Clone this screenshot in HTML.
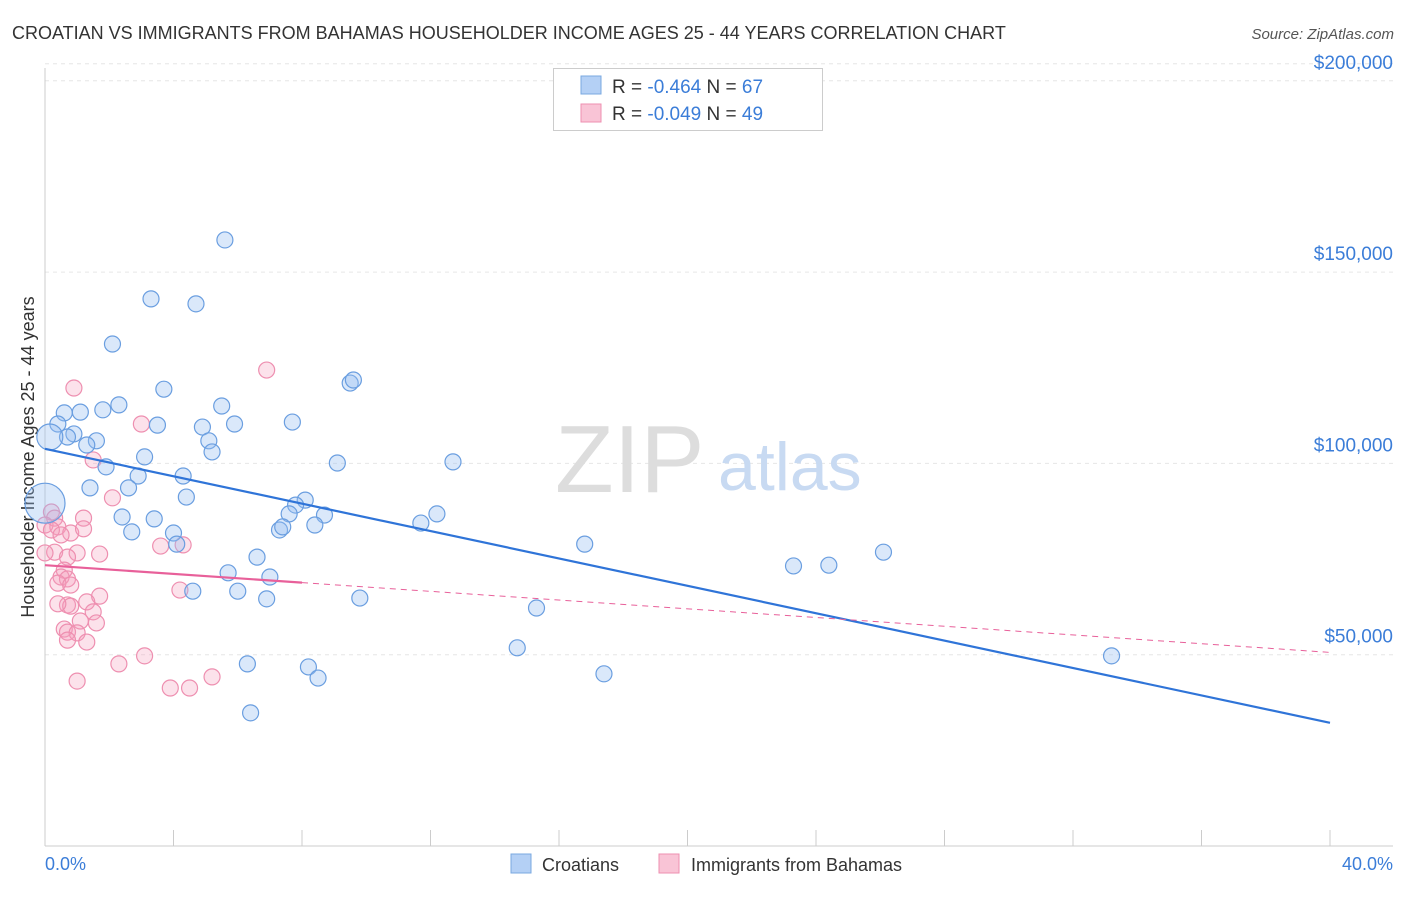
<!DOCTYPE html>
<html><head><meta charset="utf-8"><style>
body{margin:0;background:#fff;font-family:"Liberation Sans",sans-serif;}
svg text{font-family:"Liberation Sans",sans-serif;}
</style></head><body>
<svg id="chart" width="1406" height="892" xmlns="http://www.w3.org/2000/svg">
<text x="12" y="39" font-size="18" fill="#333">CROATIAN VS IMMIGRANTS FROM BAHAMAS HOUSEHOLDER INCOME AGES 25 - 44 YEARS CORRELATION CHART</text>
<text x="1394" y="39" font-size="15" fill="#555" text-anchor="end" font-style="italic">Source: ZipAtlas.com</text>
<g id="grid"></g>
<g id="yticks"></g>
<line x1="45" y1="68" x2="45" y2="846" stroke="#ccc"/>
<line x1="45" y1="846" x2="1393" y2="846" stroke="#ccc"/>
<g id="xticks"></g>
<text x="45" y="870" font-size="18" fill="#3b7dd8">0.0%</text>
<text x="1393" y="870" font-size="18" fill="#3b7dd8" text-anchor="end">40.0%</text>
<text transform="translate(34,457) rotate(-90)" font-size="18" fill="#333" text-anchor="middle">Householder Income Ages 25 - 44 years</text>
<text x="555" y="492" font-size="96" fill="#ddd" font-family="Liberation Serif">ZIP</text>
<text x="718" y="490" font-size="68" fill="#c8daf2">atlas</text>
<g id="pts"></g>
<g id="trends"></g>
<g>
<rect x="553.5" y="68.5" width="269" height="62" fill="#fff" stroke="#ccc"/>
<rect x="581" y="76" width="20" height="18" fill="#b4d0f5" stroke="#7aa8e0"/>
<rect x="581" y="104" width="20" height="18" fill="#f9c4d6" stroke="#ee8fb0"/>
<text x="612" y="93" font-size="19" fill="#333">R = <tspan fill="#3b7dd8">-0.464</tspan>   N = <tspan fill="#3b7dd8">67</tspan></text>
<text x="612" y="120" font-size="19" fill="#333">R = <tspan fill="#3b7dd8">-0.049</tspan>   N = <tspan fill="#3b7dd8">49</tspan></text>
</g>
<g>
<rect x="511" y="854" width="20" height="19" fill="#b4d0f5" stroke="#7aa8e0"/>
<text x="542" y="871" font-size="18" fill="#333">Croatians</text>
<rect x="659" y="854" width="20" height="19" fill="#f9c4d6" stroke="#ee8fb0"/>
<text x="691" y="871" font-size="18" fill="#333">Immigrants from Bahamas</text>
</g>
</svg>
<script>
const yTicks=[50000,100000,150000,200000];
const yTickLabels=["$50,000","$100,000","$150,000","$200,000"];
const xTicks=[0,4,8,12,16,20,24,28,32,36,40];
const blueX=[5.6,3.3,4.7,2.1,3.7,9.5,9.6,2.3,5.5,0.6,1.1,1.8,0.4,0.9,0.7,3.5,4.9,5.9,7.7,1.6,1.3,5.1,5.2,3.1,9.1,12.7,1.9,4.3,2.9,1.4,2.6,4.4,8.1,7.8,2.4,3.4,7.6,8.7,12.2,11.7,2.7,4.0,7.3,7.4,8.4,4.1,16.8,6.6,26.1,23.3,24.4,5.7,7.0,4.6,6.0,6.9,9.8,15.3,14.7,33.2,6.3,8.2,8.5,17.4,6.4,0,0.15];
const blueY=[158.4,143.0,141.7,131.2,119.4,121.0,121.8,115.3,115.0,113.2,113.4,114.0,110.3,107.7,106.9,110.0,109.5,110.3,110.8,105.9,104.8,105.9,103.0,101.7,100.1,100.4,99.1,96.7,96.7,93.6,93.6,91.2,90.4,89.1,86.0,85.5,86.8,86.5,86.8,84.4,82.1,81.8,82.6,83.4,83.9,78.9,78.9,75.5,76.8,73.2,73.4,71.4,70.3,66.6,66.6,64.6,64.8,62.2,51.8,49.7,47.6,46.8,43.9,45.0,34.8,89.6,106.9];
const blueR=[8,8,8,8,8,8,8,8,8,8,8,8,8,8,8,8,8,8,8,8,8,8,8,8,8,8,8,8,8,8,8,8,8,8,8,8,8,8,8,8,8,8,8,8,8,8,8,8,8,8,8,8,8,8,8,8,8,8,8,8,8,8,8,8,8,20,13];
const pinkX=[0.9,6.9,3.0,1.5,2.1,0.2,0.3,1.2,0,0.4,0.2,0.8,0.5,1.2,3.6,4.3,0.3,1.7,1.0,0.7,0.6,0.5,0.7,0.4,0.8,4.2,1.7,1.3,0.7,0.8,0.4,1.5,1.1,1.6,0.6,0.7,1.0,0.7,1.3,2.3,3.1,1.0,3.9,4.5,5.2,0];
const pinkY=[119.7,124.4,110.3,100.9,91.0,87.3,85.7,85.7,83.9,83.4,82.6,81.8,81.3,82.9,78.4,78.7,76.8,76.3,76.6,75.5,72.1,70.3,69.8,68.7,68.2,66.9,65.3,63.8,63.0,62.7,63.3,61.2,58.8,58.3,56.7,55.9,55.7,53.8,53.3,47.6,49.7,43.1,41.3,41.3,44.2,76.6];
const blueTrend=[103.8,-1.79];
const pinkTrend=[73.4,-0.57];
const pinkSolidEnd=8;

const NS="http://www.w3.org/2000/svg";
const X=v=>45+v*32.125;
const Y=k=>846-k*3.826;
function mk(tag,attrs,parent){const e=document.createElementNS(NS,tag);for(const k in attrs)e.setAttribute(k,attrs[k]);parent.appendChild(e);return e;}
const grid=document.getElementById('grid'),yt=document.getElementById('yticks'),xt=document.getElementById('xticks'),pts=document.getElementById('pts'),tr=document.getElementById('trends');
mk('line',{x1:45,x2:1393,y1:Y(200)-17,y2:Y(200)-17,stroke:'#e6e6e6','stroke-dasharray':'4,4'},grid);
yTicks.forEach((t,i)=>{
 const l=mk('line',{x1:45,x2:1393,y1:Y(t/1000),y2:Y(t/1000),stroke:'#e6e6e6','stroke-dasharray':'4,4'},grid);
 
 
 const tx=mk('text',{x:1393,y:Y(t/1000)-12,'font-size':19,fill:'#3b7dd8','text-anchor':'end'},yt);
 tx.textContent=yTickLabels[i];
 
 
});
xTicks.forEach(t=>{
 const l=mk('line',{x1:X(t),x2:X(t),y1:830,y2:846,stroke:'#ccc'},xt);
 
 
});
pinkX.forEach((v,i)=>{
 const c=mk('circle',{cx:X(v),cy:Y(pinkY[i]),r:8,fill:'rgba(245,160,190,0.3)',stroke:'#ee8fb0','stroke-width':1.2},pts);
 
 
});
blueX.forEach((v,i)=>{
 const c=mk('circle',{cx:X(v),cy:Y(blueY[i]),r:blueR[i],fill:'rgba(150,190,240,0.35)',stroke:'#6a9ee0','stroke-width':1.2},pts);
 
 
});
const b=mk('line',{x1:X(0),y1:Y(blueTrend[0]),x2:X(40),y2:Y(blueTrend[0]+blueTrend[1]*40),stroke:'#2f74d8','stroke-width':2.2},tr);


const p1=mk('line',{x1:X(0),y1:Y(pinkTrend[0]),x2:X(pinkSolidEnd),y2:Y(pinkTrend[0]+pinkTrend[1]*pinkSolidEnd),stroke:'#e8609a','stroke-width':2.2},tr);


const p2=mk('line',{x1:X(pinkSolidEnd),y1:Y(pinkTrend[0]+pinkTrend[1]*pinkSolidEnd),x2:X(40),y2:Y(pinkTrend[0]+pinkTrend[1]*40),stroke:'#e8609a','stroke-width':1,'stroke-dasharray':'6,5'},tr);


</script>
</body></html>
